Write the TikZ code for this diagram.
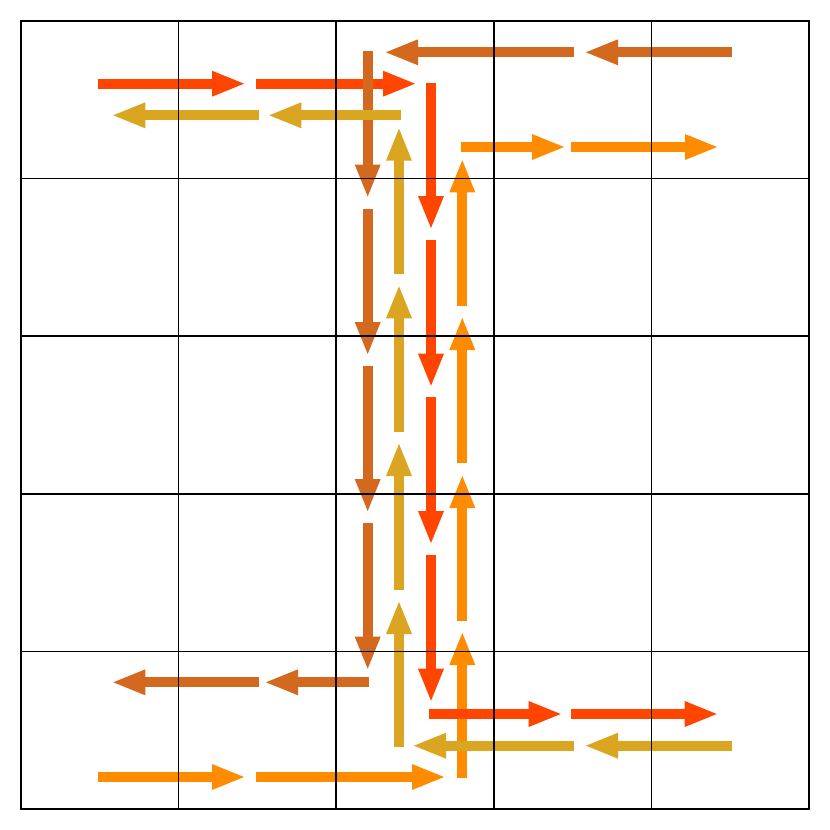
\documentclass[tikz,border=0pt]{standalone}
\usetikzlibrary{arrows.meta}
\definecolor{cRed}{HTML}{FF4500}
\definecolor{cChoc}{HTML}{D2691E}
\definecolor{cGold}{HTML}{DAA520}
\definecolor{cOrg}{HTML}{FF8C00}
\tikzset{
  arr/.style={line width=9.7pt, -{Triangle[length=34pt,width=23pt]}},
  gridln/.style={line width=1.5pt, black},
  frameln/.style={line width=2.5pt, black}
}
\begin{document}
\begin{tikzpicture}[x=1pt,y=-1pt]
\useasboundingbox (0,0) rectangle (830,830);
% dark orange
\draw[arr,cOrg] (462.3,778.3) -- (462.3,631);
\draw[arr,cOrg] (462.3,620.7) -- (462.3,474);
\draw[arr,cOrg] (462.3,463.3) -- (462.3,316);
\draw[arr,cOrg] (462.3,305.7) -- (462.3,158.3);
\draw[arr,cOrg] (460.7,147) -- (566,147);
\draw[arr,cOrg] (571,147) -- (719,147);
\draw[arr,cOrg] (98.3,777) -- (246,777);
\draw[arr,cOrg] (256,777) -- (446,777);
% red
\draw[arr,cRed] (98.3,83.7) -- (246,83.7);
\draw[arr,cRed] (256,83.7) -- (417,83.7);
\draw[arr,cRed] (431,82.7) -- (431,230);
\draw[arr,cRed] (431,240) -- (431,387.7);
\draw[arr,cRed] (431,397.3) -- (431,545);
\draw[arr,cRed] (431,555) -- (431,702.7);
\draw[arr,cRed] (429,714) -- (562.7,714);
\draw[arr,cRed] (571,714) -- (718.7,714);
% chocolate
\draw[arr,cChoc] (731.7,52.3) -- (584,52.3);
\draw[arr,cChoc] (574,52.3) -- (384,52.3);
\draw[arr,cChoc] (367.7,51) -- (367.7,198.5);
\draw[arr,cChoc] (367.7,209) -- (367.7,356);
\draw[arr,cChoc] (367.7,366) -- (367.7,513);
\draw[arr,cChoc] (367.7,523) -- (367.7,670.7);
\draw[arr,cChoc] (369.3,682.3) -- (264,682.3);
\draw[arr,cChoc] (259,682.3) -- (111.3,682.3);
% goldenrod
\draw[arr,cGold] (400.7,115.3) -- (267.3,115.3);
\draw[arr,cGold] (259,115.3) -- (111.3,115.3);
\draw[arr,cGold] (399,746.7) -- (399,600);
\draw[arr,cGold] (399,590) -- (399,442);
\draw[arr,cGold] (399,432) -- (399,284.3);
\draw[arr,cGold] (399,274) -- (399,126.7);
\draw[arr,cGold] (731.7,745.7) -- (584,745.7);
\draw[arr,cGold] (574,745.7) -- (412,745.7);
% grid
\foreach \g in {178.6,336.2,493.8,651.4} {
  \draw[gridln] (\g,21) -- (\g,809);
  \draw[gridln] (21,\g) -- (809,\g);
}
\draw[frameln] (21,21) rectangle (809,809);
\end{tikzpicture}
\end{document}
